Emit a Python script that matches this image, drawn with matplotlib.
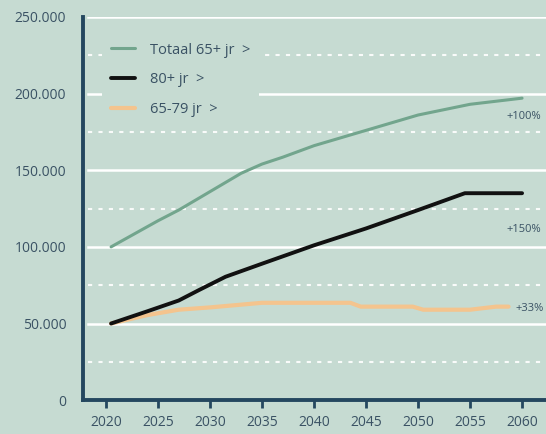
import matplotlib.pyplot as plt
import numpy as np

# data
jaren_totaal = [2020.5, 2025, 2027, 2030, 2033, 2035, 2037, 2040, 2045, 2050, 2055, 2060]
totaal_65 = [100000, 117000, 124000, 136000, 148000, 154000, 158500, 166000, 176000, 186000, 193000, 197000]

jaren_80 = [2020.5, 2024, 2027, 2029, 2031.5, 2035, 2040, 2045, 2050, 2054.5, 2060]
plus_80 = [50000, 58000, 65000, 72000, 80500, 89000, 101000, 112000, 124000, 135000, 135000]

jaren_6579 = [2020.5, 2024, 2027, 2030, 2035, 2043.5, 2044.5, 2049.5, 2050.5, 2055, 2057.5, 2058.7]
jr_65_79 = [50000, 55500, 59000, 60500, 63500, 63500, 61000, 61000, 59000, 59000, 61000, 61000]

labels = ['Totaal 65+ jr  >', '80+ jr  >', '65-79 jr  >']
groei = ['+100%', '+150%', '+33%']
groei_y = [185000, 111000, 60000]
x_ticks = [2020, 2025, 2030, 2035, 2040, 2045, 2050, 2055, 2060]
y_ticks = [0, 50000, 100000, 150000, 200000, 250000]

bg = '#c6dbd2'
txt = '#3a5264'
axis_col = '#24475f'

plt.rcParams['font.family'] = ['Open Sans', 'DejaVu Sans']

fig = plt.figure(figsize=(5.46, 4.34), dpi=100, facecolor=bg)
ax = fig.add_axes([0.152, 0.078, 0.848, 0.883])
ax.set_facecolor(bg)

ax.set_xlim(2017.8, 2062.3)
ax.set_ylim(0, 250000)

# gridlines
for v in y_ticks[1:]:
    ax.axhline(v, color='white', lw=1.8, zorder=1, xmin=0.01)
for v in np.arange(25000, 250000, 50000):
    ax.axhline(v, color='white', lw=1.5, ls=(0, (2, 3)), zorder=1, xmin=0.01, alpha=0.9)

ax.plot(jaren_totaal, totaal_65, color='#72a58d', lw=2.2, label=labels[0], zorder=3,
        solid_capstyle='round')
ax.plot(jaren_80, plus_80, color='#111111', lw=2.8, label=labels[1], zorder=4,
        solid_capstyle='round')
ax.plot(jaren_6579, jr_65_79, color='#f4c48e', lw=3.0, label=labels[2], zorder=2,
        solid_capstyle='round')

for t, y in zip(groei, groei_y):
    x = 2059.4 if t == '+33%' else 2058.5
    ax.text(x, y, t, color=txt, fontsize=8, va='center', ha='left', zorder=5)

for s in ['top', 'right']:
    ax.spines[s].set_visible(False)
for s in ['left', 'bottom']:
    ax.spines[s].set_color(axis_col)
    ax.spines[s].set_linewidth(2.8)

ax.set_xticks(x_ticks)
ax.set_xticklabels([str(x) for x in x_ticks])
ax.set_yticks(y_ticks)
ax.set_yticklabels(['0' if v == 0 else f'{v // 1000}.000' for v in y_ticks])
ax.tick_params(axis='x', colors=axis_col, length=6, width=2, labelcolor=txt,
               labelsize=10, pad=5)
ax.tick_params(axis='y', length=0, labelcolor=txt, labelsize=10, pad=12)

leg = ax.legend(loc='upper left', bbox_to_anchor=(0.025, 0.975), frameon=True,
                facecolor=bg, edgecolor='none', framealpha=1, fancybox=False,
                handlelength=1.7, handletextpad=1.0, labelspacing=1.0,
                fontsize=10.5, borderpad=0.6)
for t in leg.get_texts():
    t.set_color(txt)
leg.set_zorder(6)

fig.savefig('out.png', dpi=100, facecolor=bg)
